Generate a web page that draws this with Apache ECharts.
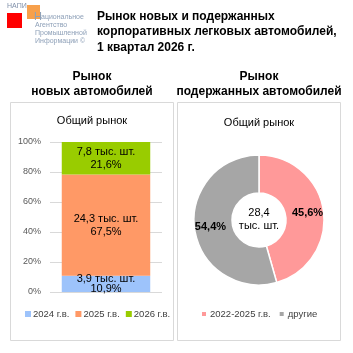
<!DOCTYPE html>
<html><head><meta charset="utf-8">
<script src="https://cdn.jsdelivr.net/npm/echarts@6/dist/echarts.min.js"></script>
<style>html,body{margin:0;padding:0;background:#fff}#c{width:353px;height:353px}</style>
</head><body><div id="c"></div>
<script>
const barCategories = ['2024 г.в.', '2025 г.в.', '2026 г.в.'];
const barShares = [10.9, 67.5, 21.6];
const barThousands = ['3,9', '24,3', '7,8'];
const barColors = ['#9DC3FB', '#FF9966', '#99CC00'];
const pieNames = ['2022-2025 г.в.', 'другие'];
const pieShares = [45.6, 54.4];
const pieColors = ['#FF9999', '#A6A6A6'];
const pieTotal = '28,4';
const FONT = 'Liberation Sans';

const chart = echarts.init(document.getElementById('c'), null, {renderer: 'canvas'});
const fmt = v => String(v).replace('.', ',');

const barSeries = barCategories.map((name, i) => ({
  type: 'bar', name: name, stack: 'total', data: [barShares[i]],
  barCategoryGap: '21%',
  itemStyle: {color: barColors[i]},
  label: {
    show: true, position: 'inside', color: '#000', fontFamily: FONT, fontSize: 11,
    lineHeight: i === 0 ? 10 : 13,
    formatter: () => barThousands[i] + ' тыс. шт.\n' + fmt(barShares[i]) + '%'
  },
  xAxisIndex: 0, yAxisIndex: 0
}));

const option = {
  animation: false,
  textStyle: {fontFamily: FONT},
  graphic: [
    {type: 'rect', shape: {x: 10.5, y: 102.5, width: 163, height: 238}, style: {fill: '#fff', stroke: '#D9D9D9', lineWidth: 1}, z: -10},
    {type: 'rect', shape: {x: 177.5, y: 102.5, width: 163, height: 238}, style: {fill: '#fff', stroke: '#D9D9D9', lineWidth: 1}, z: -10},
    // logo
    {type: 'text', x: 7, y: 3, style: {text: 'НАПИ', fontSize: 7, fontFamily: FONT, fill: '#7F8FA9'}},
    {type: 'rect', shape: {x: 7, y: 13, width: 15, height: 15}, style: {fill: '#FF0000'}},
    {type: 'rect', shape: {x: 27, y: 5, width: 13, height: 14}, style: {fill: '#F7A04B'}},
    {type: 'text', x: 34, y: 11, style: {text: 'Н', fontSize: 11, fontFamily: FONT, fill: '#8EA0B8'}},
    {type: 'text', x: 41, y: 13.5, style: {text: 'ациональное', fontSize: 7, fontFamily: FONT, fill: '#8EA0B8'}},
    {type: 'text', x: 35, y: 21, style: {text: 'Агентство\nПромышленной\nИнформации ©', fontSize: 7, lineHeight: 8, fontFamily: FONT, fill: '#8EA0B8'}},
    // main title
    {type: 'text', x: 97, y: 8.5, style: {text: 'Рынок новых и подержанных\nкорпоративных легковых автомобилей,\n1 квартал 2026 г.', fontSize: 12, fontWeight: 'bold', lineHeight: 15.5, fontFamily: FONT, fill: '#000'}},
    // panel headers
    {type: 'text', x: 92, y: 69.5, style: {text: 'Рынок\nновых автомобилей', align: 'center', fontSize: 12, fontWeight: 'bold', lineHeight: 15, fontFamily: FONT, fill: '#000'}},
    {type: 'text', x: 259, y: 69.5, style: {text: 'Рынок\nподержанных автомобилей', align: 'center', fontSize: 12, fontWeight: 'bold', lineHeight: 15, fontFamily: FONT, fill: '#000'}},
    {type: 'text', x: 92, y: 115, style: {text: 'Общий рынок', align: 'center', fontSize: 11, fontFamily: FONT, fill: '#000'}},
    {type: 'text', x: 259, y: 117, style: {text: 'Общий рынок', align: 'center', fontSize: 11, fontFamily: FONT, fill: '#000'}},
    // donut center
    {type: 'text', x: 259, y: 206, z: 10, style: {text: pieTotal + '\nтыс. шт.', align: 'center', fontSize: 11, lineHeight: 13, fontFamily: FONT, fill: '#000'}}
  ],
  legend: [
    {data: barCategories, left: 25, top: 309, padding: 0, itemWidth: 6, itemHeight: 6, itemGap: 6, icon: 'rect',
     textStyle: {fontSize: 9.5, color: '#404040', fontFamily: FONT, padding: [0, 0, 0, -3]}},
    {data: pieNames, left: 200, top: 309, padding: 0, itemWidth: 6, itemHeight: 6, itemGap: 7, icon: 'rect',
     textStyle: {fontSize: 9.5, color: '#404040', fontFamily: FONT, padding: [0, 0, 0, -2]}}
  ],
  grid: {left: 50, right: 191, top: 142, bottom: 61},
  xAxis: {type: 'category', data: ['Общий рынок'], show: false},
  yAxis: {
    type: 'value', min: 0, max: 100, interval: 20,
    axisLine: {show: false}, axisTick: {show: false},
    splitLine: {lineStyle: {color: '#D9D9D9'}},
    axisLabel: {formatter: '{value}%', color: '#595959', fontSize: 9, fontFamily: FONT, margin: 9}
  },
  series: barSeries.concat([{
    type: 'pie', center: [259, 220], radius: [27, 65], startAngle: 90, clockwise: true,
    itemStyle: {borderColor: '#fff', borderWidth: 1.5},
    label: {show: true, position: 'inside', color: '#000', fontWeight: 'bold', fontSize: 11, fontFamily: FONT,
            formatter: p => fmt(pieShares[p.dataIndex]) + '%'},
    labelLine: {show: false},
    emphasis: {disabled: true},
    data: pieNames.map((n, i) => ({name: n, value: pieShares[i], itemStyle: {color: pieColors[i]}}))
  }])
};
chart.setOption(option);
</script></body></html>
